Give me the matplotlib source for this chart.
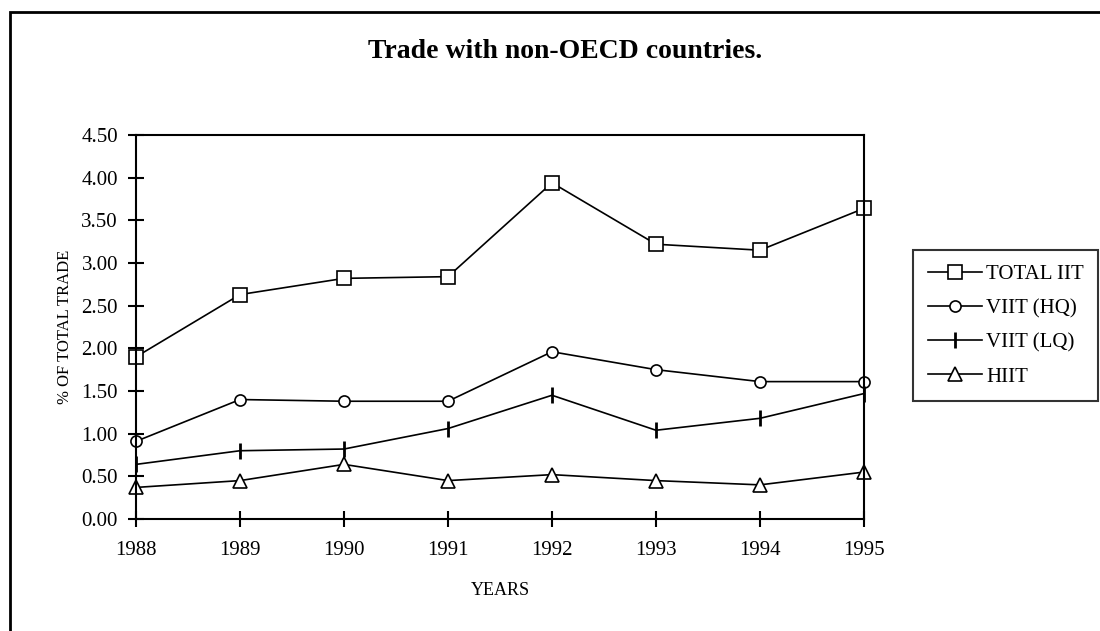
import matplotlib
matplotlib.use("Agg")
import matplotlib.pyplot as plt
from matplotlib.patches import Rectangle

plt.rcParams['font.family'] = ['Liberation Serif', 'DejaVu Serif']

# data
years = [1988, 1989, 1990, 1991, 1992, 1993, 1994, 1995]
total_iit = [1.90, 2.63, 2.82, 2.84, 3.94, 3.22, 3.15, 3.64]
viit_hq = [0.91, 1.40, 1.38, 1.38, 1.96, 1.75, 1.61, 1.61]
viit_lq = [0.64, 0.80, 0.82, 1.06, 1.45, 1.04, 1.18, 1.47]
hiit = [0.37, 0.45, 0.64, 0.45, 0.52, 0.45, 0.40, 0.55]
yticks = [0.0, 0.5, 1.0, 1.5, 2.0, 2.5, 3.0, 3.5, 4.0, 4.5]

fig = plt.figure(figsize=(11, 6.31), dpi=100)
ax = fig.add_axes([136 / 1100, 1 - 519 / 631, 728 / 1100, 384 / 631])

style = dict(color="black", linewidth=1.2, markerfacecolor="white",
             markeredgecolor="black", markeredgewidth=1.2, clip_on=False)
ax.plot(years, total_iit, marker="s", markersize=10, label="TOTAL IIT", **style)
ax.plot(years, viit_hq, marker="o", markersize=8, label="VIIT (HQ)", **style)
ax.plot(years, viit_lq, marker="|", markersize=11, markeredgewidth=2, label="VIIT (LQ)",
        color="black", linewidth=1.2, clip_on=False)
ax.plot(years, hiit, marker="^", markersize=10, label="HIIT", **style)

ax.set_xlim(1988, 1995)
ax.set_ylim(0, 4.5)
ax.set_xticks(years)
ax.set_yticks(yticks)
ax.set_yticklabels(["%.2f" % v for v in yticks])
ax.tick_params(axis="both", direction="inout", length=12, width=1.5,
               labelsize=15, color="black")
ax.tick_params(axis="x", pad=10)
ax.tick_params(axis="y", pad=7)
for s in ax.spines.values():
    s.set_linewidth(1.5)
    s.set_color("black")

ax.set_xlabel("YEARS", fontsize=13, labelpad=16)
ax.set_ylabel("% OF TOTAL TRADE", fontsize=12, labelpad=6)

fig.text(565 / 1100, 1 - 52 / 631, "Trade with non-OECD countries.",
         fontsize=20, fontweight="bold", ha="center", va="center")

leg = fig.legend(loc="upper left", bbox_to_anchor=(913 / 1100, 1 - 250 / 631),
                 fontsize=15, frameon=True, fancybox=False, borderaxespad=0,
                 handlelength=2.6, handletextpad=0.2, labelspacing=0.7,
                 borderpad=0.7)
leg.get_frame().set_edgecolor("black")
leg.get_frame().set_linewidth(1.5)

# outer chart border (cut at right and bottom edges)
fig.patches.append(Rectangle((10 / 1100, -0.1), 1.2, 1.1 - 12 / 631,
                             transform=fig.transFigure, fill=False,
                             edgecolor="black", linewidth=2))

fig.savefig("out.png", dpi=100)
